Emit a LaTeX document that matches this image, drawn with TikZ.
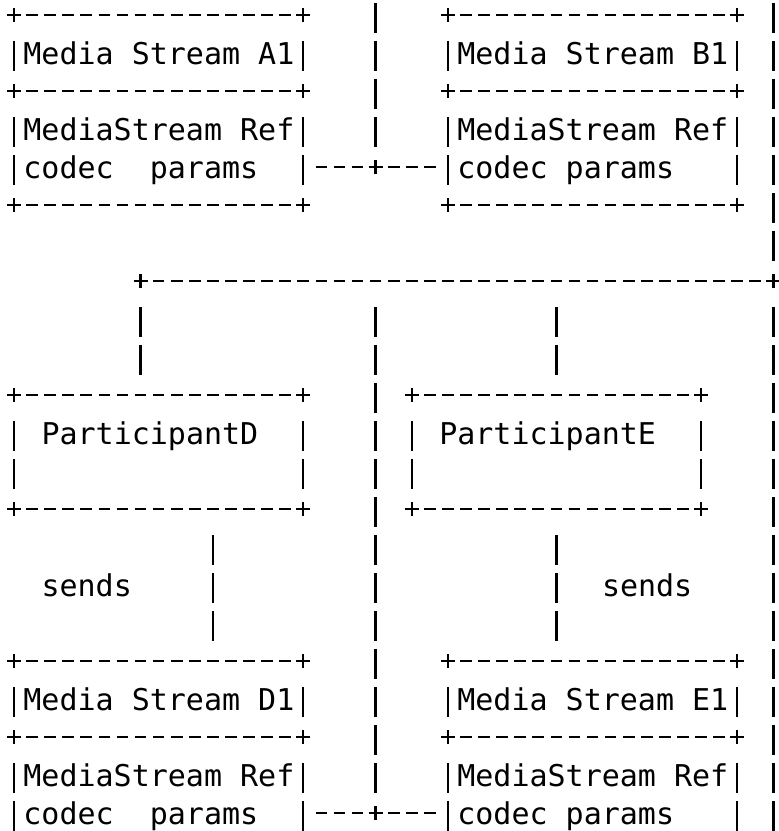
\documentclass[tikz,border=0pt]{standalone}
\usepackage{fontspec}
\newfontfamily\asciifont{DejaVu Sans Mono}
\usetikzlibrary{positioning}

\begin{document}
\begin{tikzpicture}[x=9.04pt,y=-19pt]
\tikzstyle{frame}=[rectangle,inner sep=0pt,outer sep=0pt,minimum width=144.64pt]
\tikzstyle{txt}=[font=\asciifont\fontsize{15pt}{18pt}\selectfont,
inner sep=0pt,anchor=base west,yshift=-5.7pt]
\tikzstyle{hwire}=[line width=1.15pt,dash pattern=on 5.85pt off 3.19pt,dash phase=2.925pt]
\tikzstyle{hlink}=[hwire,shorten <=4.52pt,shorten >=4.52pt,dash phase=7.44pt]
\tikzstyle{vwire}=[line width=1.15pt,dash pattern=on 15pt off 4pt,
shorten <=13pt,shorten >=10pt]
\tikzset{junc/.pic={\draw[line width=1.15pt] (-3.5pt,0) -- (3.5pt,0) (0,-3.5pt) -- (0,3.5pt);}}
\useasboundingbox (-0.7743,-0.3947) rectangle (42.312,21.474);

% media stream boxes, participants
\node[frame,minimum height=38pt] at (8,1) (A1) {};
\node[frame,minimum height=57pt,below=0pt of A1] (A1b) {};
\node[frame,minimum height=38pt] at (32,1) (B1) {};
\node[frame,minimum height=57pt,below=0pt of B1] (B1b) {};
\node[frame,minimum height=57pt] at (8,11.5) (D) {};
\node[frame,minimum height=57pt] at (30,11.5) (E) {};
\node[frame,minimum height=38pt] at (8,18) (D1) {};
\node[frame,minimum height=57pt,below=0pt of D1] (D1b) {};
\node[frame,minimum height=38pt] at (32,18) (E1) {};
\node[frame,minimum height=57pt,below=0pt of E1] (E1b) {};

\node[txt] at (0.5,1) (A1n) {Media Stream A1};
\node[txt] at (0.5,3) (A1r) {MediaStream Ref};
\node[txt] at (0.5,4) (A1c) {codec\ \ params};
\node[txt] at (24.5,1) (B1n) {Media Stream B1};
\node[txt] at (24.5,3) (B1r) {MediaStream Ref};
\node[txt] at (24.5,4) (B1c) {codec params};
\node[txt] at (1.5,11) (Dn) {ParticipantD};
\node[txt] at (23.5,11) (En) {ParticipantE};
\node[txt] at (1.5,15) (Ds) {sends};
\node[txt] at (32.5,15) (Es) {sends};
\node[txt] at (0.5,18) (D1n) {Media Stream D1};
\node[txt] at (0.5,20) (D1r) {MediaStream Ref};
\node[txt] at (0.5,21) (D1c) {codec\ \ params};
\node[txt] at (24.5,18) (E1n) {Media Stream E1};
\node[txt] at (24.5,20) (E1r) {MediaStream Ref};
\node[txt] at (24.5,21) (E1c) {codec params};

\coordinate (j1) at (20,4);
\coordinate (j2) at (20,21);
\coordinate (busL) at (7,7);
\coordinate (busR) at (42,7);
\coordinate (ctop) at (20,-1);
\coordinate (rtop) at (42,-1);
\coordinate (rbot) at (42,22);

% box edges
\foreach \n in {A1,B1,D,E,D1,E1} {
  \draw[hwire] (\n.north west) -- (\n.north east);
  \draw[hwire] (\n.south west) -- (\n.south east);
}
\foreach \n in {A1b,B1b}
  \draw[hwire] (\n.south west) -- (\n.south east);
\foreach \n in {A1,A1b,B1,B1b,D,E,D1,D1b,E1,E1b} {
  \draw[vwire] (\n.north west) -- (\n.south west);
  \draw[vwire] (\n.north east) -- (\n.south east);
}

% links
\draw[hlink] (A1b.east |- j1) -- (B1b.west |- j1);
\draw[hlink] (D1b.east |- j2) -- (E1b.west |- j2);
\draw[hwire] (busL) -- (busR);
\draw[vwire] (ctop) -- (j1);
\draw[vwire] (rtop) -- (busR);
\draw[vwire] (busR) -- (rbot);
\draw[vwire] (busL) -- (D.north -| busL);
\draw[vwire] (busL -| E.north) -- (E.north);
\draw[vwire] (busL -| j2) -- (j2);
\draw[vwire] ([xshift=27.12pt]D.south) -- ([xshift=27.12pt]D1.north);
\draw[vwire] (E.south) -- (E1.north -| E.south);

% plus signs
\foreach \n in {A1,B1,D,E,D1,E1}
  \foreach \a in {north west,north east,south west,south east}
    \pic at (\n.\a) {junc};
\foreach \n in {A1b,B1b} {
  \pic at (\n.south west) {junc};
  \pic at (\n.south east) {junc};
}
\foreach \c in {j1,j2,busL,busR}
  \pic at (\c) {junc};

\end{tikzpicture}
\end{document}
